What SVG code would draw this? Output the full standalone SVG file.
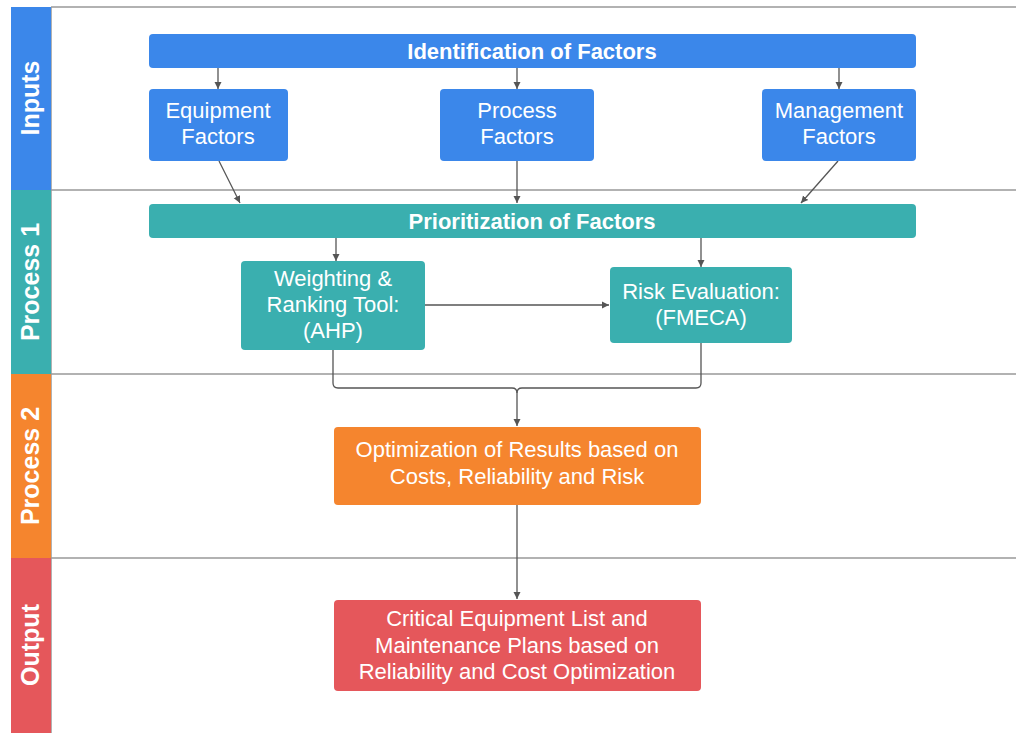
<svg xmlns="http://www.w3.org/2000/svg" width="1016" height="733" viewBox="0 0 1016 733">
<defs>
<marker id="ah" markerWidth="8" markerHeight="8" refX="7" refY="4" orient="auto" markerUnits="userSpaceOnUse">
<path d="M0,0.5 L7,4 L0,7.5 z" fill="#555"/>
</marker>
<style>
.lane{stroke:#999;stroke-width:1.5;fill:none}
.hdr text{font-family:"Liberation Sans",Arial,sans-serif;font-weight:bold;font-size:25px;fill:#fff}
.box text{font-family:"Liberation Sans",Arial,sans-serif;font-size:22px;fill:#fff;text-anchor:middle}
.bar text{font-weight:bold}
.blue{fill:#3b87ea}
.teal{fill:#3aafaf}
.orange{fill:#f5852e}
.red{fill:#e5575b}
.conn{stroke:#555;stroke-width:1.3;fill:none}
</style>
</defs>
<rect width="1016" height="733" fill="#fff"/>
<g id="lanes">
<line class="lane" x1="51" y1="7" x2="1016" y2="7"/>
<line class="lane" x1="51" y1="190" x2="1016" y2="190"/>
<line class="lane" x1="51" y1="374" x2="1016" y2="374"/>
<line class="lane" x1="51" y1="558" x2="1016" y2="558"/>
<line class="lane" x1="51" y1="7" x2="51" y2="733"/>
</g>
<g id="lane-inputs" class="hdr"><rect x="11" y="7" width="40" height="183" class="blue"/><text transform="translate(39,98) rotate(-90)" text-anchor="middle">Inputs</text></g>
<g id="lane-process1" class="hdr"><rect x="11" y="190" width="40" height="184" class="teal"/><text transform="translate(39,282) rotate(-90)" text-anchor="middle">Process 1</text></g>
<g id="lane-process2" class="hdr"><rect x="11" y="374" width="40" height="184" class="orange"/><text transform="translate(39,466) rotate(-90)" text-anchor="middle">Process 2</text></g>
<g id="lane-output" class="hdr"><rect x="11" y="558" width="40" height="175" class="red"/><text transform="translate(39,645) rotate(-90)" text-anchor="middle">Output</text></g>

<g id="connectors">
<line class="conn" x1="218" y1="68" x2="218" y2="89" marker-end="url(#ah)"/>
<line class="conn" x1="517" y1="68" x2="517" y2="89" marker-end="url(#ah)"/>
<line class="conn" x1="839" y1="68" x2="839" y2="89" marker-end="url(#ah)"/>
<line class="conn" x1="219" y1="161" x2="240" y2="203" marker-end="url(#ah)"/>
<line class="conn" x1="517" y1="161" x2="517" y2="203" marker-end="url(#ah)"/>
<line class="conn" x1="838" y1="161" x2="801" y2="203" marker-end="url(#ah)"/>
<line class="conn" x1="336" y1="238" x2="336" y2="261" marker-end="url(#ah)"/>
<line class="conn" x1="701" y1="238" x2="701" y2="267" marker-end="url(#ah)"/>
<line class="conn" x1="425" y1="305" x2="609" y2="305" marker-end="url(#ah)"/>
<path class="conn" d="M333,350 V383 Q333,388 338,388 H512 Q517,388 517,393"/>
<path class="conn" d="M701,343 V383 Q701,388 696,388 H522 Q517,388 517,393 V426" marker-end="url(#ah)"/>
<line class="conn" x1="517" y1="505" x2="517" y2="599" marker-end="url(#ah)"/>
</g>

<g id="identification" class="box bar"><rect x="149" y="34" width="767" height="34" rx="4" class="blue"/><text x="532" y="59">Identification of Factors</text></g>
<g id="equipment" class="box"><rect x="149" y="89" width="139" height="72" rx="4" class="blue"/><text x="218" y="118">Equipment</text><text x="218" y="144">Factors</text></g>
<g id="process" class="box"><rect x="440" y="89" width="154" height="72" rx="4" class="blue"/><text x="517" y="118">Process</text><text x="517" y="144">Factors</text></g>
<g id="management" class="box"><rect x="762" y="89" width="154" height="72" rx="4" class="blue"/><text x="839" y="118">Management</text><text x="839" y="144">Factors</text></g>

<g id="prioritization" class="box bar"><rect x="149" y="204" width="767" height="34" rx="4" class="teal"/><text x="532" y="229">Prioritization of Factors</text></g>
<g id="weighting" class="box"><rect x="241" y="261" width="184" height="89" rx="4" class="teal"/><text x="333" y="286">Weighting &amp;</text><text x="333" y="312">Ranking Tool:</text><text x="333" y="338">(AHP)</text></g>
<g id="risk" class="box"><rect x="610" y="267" width="182" height="76" rx="4" class="teal"/><text x="701" y="299">Risk Evaluation:</text><text x="701" y="325">(FMECA)</text></g>

<g id="optimization" class="box"><rect x="334" y="427" width="367" height="78" rx="4" class="orange"/><text x="517" y="457">Optimization of Results based on</text><text x="517" y="484">Costs, Reliability and Risk</text></g>

<g id="critical" class="box"><rect x="334" y="600" width="367" height="91" rx="4" class="red"/><text x="517" y="626">Critical Equipment List and</text><text x="517" y="653">Maintenance Plans based on</text><text x="517" y="679">Reliability and Cost Optimization</text></g>
</svg>
